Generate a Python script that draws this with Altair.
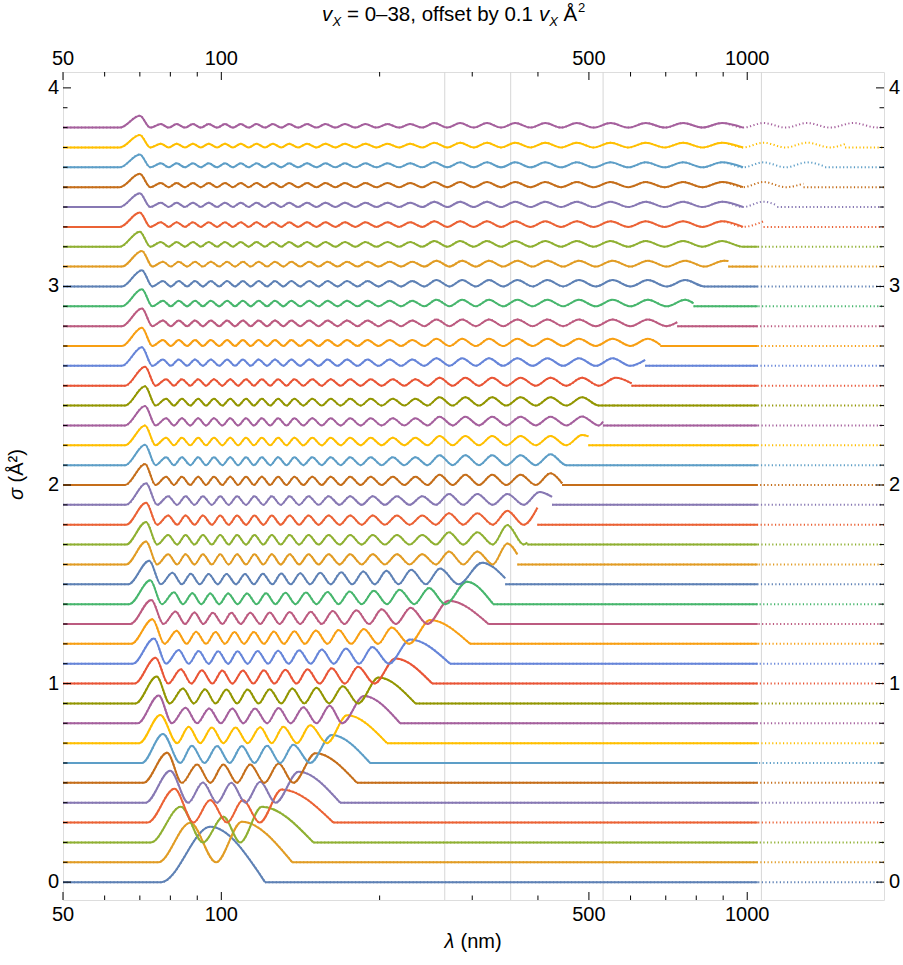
import altair as alt
import pandas as pd

# ---------------------------------------------------------------------------
# Values.  Wavelength positions are given as log10(nm)
# (read on the logarithmic axis); heights are sigma in A^2 above each curve's
# own baseline (curve v is offset by 0.1*v).
# ---------------------------------------------------------------------------
LOG_LEFT = 1.699    # 50 nm (left frame)
LOG_RIGHT = 3.260   # ~1820 nm (right frame)
LOG_DOTTED = 3.020  # beyond ~1050 nm the sampled curves look dotted

# ---- v = 0 .. 15 : every lobe visible --------------------------------------
peaks_v00 = [1.979]
nodes_v00 = []
heights_v00 = [0.279]
peaks_v01 = [1.941, 2.039]
nodes_v01 = [1.990]
heights_v01 = [0.199, 0.204]
peaks_v02 = [1.923, 2.004, 2.077]
nodes_v02 = [1.965, 2.036]
heights_v02 = [0.180, 0.129, 0.180]
peaks_v03 = [1.911, 1.979, 2.041, 2.115]
nodes_v03 = [1.947, 2.011, 2.073]
heights_v03 = [0.170, 0.113, 0.113, 0.167]
peaks_v04 = [1.903, 1.965, 2.019, 2.074, 2.147]
nodes_v04 = [1.937, 1.992, 2.046, 2.103]
heights_v04 = [0.161, 0.102, 0.100, 0.105, 0.156]
peaks_v05 = [1.897, 1.954, 2.004, 2.055, 2.109, 2.179]
nodes_v05 = [1.925, 1.979, 2.030, 2.082, 2.137]
heights_v05 = [0.152, 0.093, 0.092, 0.093, 0.097, 0.149]
peaks_v06 = [1.889, 1.944, 1.992, 2.039, 2.087, 2.137, 2.210]
nodes_v06 = [1.922, 1.968, 2.016, 2.063, 2.112, 2.169]
heights_v06 = [0.146, 0.087, 0.085, 0.085, 0.087, 0.092, 0.141]
peaks_v07 = [1.884, 1.938, 1.982, 2.027, 2.074, 2.118, 2.169, 2.239]
nodes_v07 = [1.916, 1.960, 2.004, 2.050, 2.096, 2.144, 2.201]
heights_v07 = [0.142, 0.082, 0.079, 0.079, 0.080, 0.083, 0.090, 0.140]
peaks_v08 = [1.881, 1.932, 1.977, 2.021, 2.064, 2.109, 2.156, 2.206, 2.271]
nodes_v08 = [1.906, 1.954, 1.999, 2.042, 2.087, 2.132, 2.181, 2.230]
heights_v08 = [0.140, 0.078, 0.075, 0.074, 0.075, 0.077, 0.081, 0.088, 0.137]
peaks_v09 = [1.877, 1.927, 1.969, 2.010, 2.050, 2.092, 2.135, 2.181, 2.231, 2.299]
nodes_v09 = [1.902, 1.948, 1.989, 2.030, 2.071, 2.114, 2.158, 2.205, 2.260]
heights_v09 = [0.135, 0.075, 0.071, 0.070, 0.070, 0.072, 0.075, 0.079, 0.087, 0.130]
peaks_v10 = [1.875, 1.923, 1.963, 2.002, 2.041, 2.081, 2.122, 2.164, 2.210, 2.260, 2.331]
nodes_v10 = [1.899, 1.943, 1.983, 2.021, 2.061, 2.101, 2.143, 2.187, 2.235, 2.291]
heights_v10 = [0.130, 0.072, 0.067, 0.066, 0.066, 0.067, 0.069, 0.072, 0.077, 0.085, 0.126]
peaks_v11 = [1.872, 1.919, 1.957, 1.994, 2.031, 2.069, 2.108, 2.148, 2.191, 2.237, 2.287, 2.359]
nodes_v11 = [1.895, 1.938, 1.976, 2.013, 2.050, 2.089, 2.128, 2.170, 2.214, 2.262, 2.319]
heights_v11 = [0.127, 0.069, 0.064, 0.063, 0.063, 0.064, 0.065, 0.068, 0.071, 0.076, 0.084, 0.122]
peaks_v12 = [1.869, 1.915, 1.952, 1.989, 2.025, 2.062, 2.100, 2.139, 2.180, 2.223, 2.271, 2.324, 2.397]
nodes_v12 = [1.892, 1.934, 1.971, 2.007, 2.043, 2.081, 2.119, 2.159, 2.202, 2.247, 2.298, 2.357]
heights_v12 = [0.124, 0.066, 0.061, 0.060, 0.060, 0.060, 0.062, 0.064, 0.067, 0.070, 0.075, 0.083, 0.120]
peaks_v13 = [1.867, 1.913, 1.949, 1.984, 2.019, 2.055, 2.092, 2.130, 2.170, 2.212, 2.257, 2.305, 2.360, 2.432]
nodes_v13 = [1.890, 1.931, 1.966, 2.002, 2.037, 2.074, 2.111, 2.150, 2.191, 2.234, 2.281, 2.332, 2.392]
heights_v13 = [0.121, 0.063, 0.058, 0.057, 0.057, 0.057, 0.058, 0.060, 0.062, 0.065, 0.069, 0.074, 0.082, 0.117]
peaks_v14 = [1.865, 1.910, 1.945, 1.979, 2.013, 2.049, 2.085, 2.122, 2.161, 2.202, 2.244, 2.290, 2.339, 2.395, 2.467]
nodes_v14 = [1.887, 1.927, 1.962, 1.996, 2.031, 2.067, 2.103, 2.141, 2.181, 2.223, 2.267, 2.315, 2.367, 2.426]
heights_v14 = [0.120, 0.060, 0.055, 0.054, 0.054, 0.054, 0.055, 0.057, 0.059, 0.061, 0.064, 0.068, 0.073, 0.081, 0.113]
peaks_v15 = [1.863, 1.907, 1.942, 1.976, 2.010, 2.045, 2.079, 2.114, 2.150, 2.188, 2.228, 2.270, 2.314, 2.361, 2.416, 2.496]
nodes_v15 = [1.885, 1.925, 1.959, 1.993, 2.028, 2.062, 2.097, 2.132, 2.169, 2.208, 2.249, 2.292, 2.337, 2.389, 2.451]
heights_v15 = [0.119, 0.058, 0.053, 0.052, 0.052, 0.052, 0.053, 0.054, 0.056, 0.058, 0.061, 0.064, 0.068, 0.073, 0.080, 0.109]

low_rise = [1.886, 1.880, 1.866, 1.860, 1.856, 1.852, 1.849, 1.844,
            1.841, 1.837, 1.835, 1.832, 1.829, 1.827, 1.825, 1.823]
low_end = [2.083, 2.135, 2.175, 2.213, 2.226, 2.258, 2.283, 2.315,
           2.340, 2.369, 2.401, 2.435, 2.473, 2.508, 2.517, 2.540]
low_end_value = [0.0, 0.0, 0.0, 0.0, 0.0, 0.0, 0.0, 0.0,
                 0.0, 0.0, 0.0, 0.0, 0.0, 0.0, 0.0, 0.030]

# ---- v = 16 .. 38 : lobe positions (nearly aligned within each band) -------
peaks_b = [1.857, 1.899, 1.932, 1.965, 1.998, 2.030, 2.063, 2.096, 2.130, 2.166, 2.204,
           2.245, 2.288, 2.334, 2.382, 2.433, 2.487, 2.544, 2.605, 2.669, 2.737]
nodes_b = [1.878, 1.916, 1.949, 1.982, 2.014, 2.047, 2.080, 2.113, 2.148, 2.185, 2.225,
           2.267, 2.311, 2.358, 2.408, 2.460, 2.516, 2.575, 2.637, 2.703]
peaks_c = [1.855, 1.895, 1.925, 1.956, 1.986, 2.017, 2.047, 2.077, 2.108, 2.139, 2.173,
           2.208, 2.245, 2.284, 2.326, 2.369, 2.415, 2.464, 2.515, 2.569, 2.626, 2.686,
           2.750, 2.817, 2.888]
nodes_c = [1.875, 1.910, 1.941, 1.971, 2.002, 2.032, 2.062, 2.093, 2.124, 2.156, 2.191,
           2.227, 2.265, 2.305, 2.348, 2.392, 2.440, 2.490, 2.542, 2.598, 2.656, 2.718,
           2.784, 2.853]
peaks_d = [1.849, 1.889, 1.919, 1.950, 1.980, 2.011, 2.041, 2.071, 2.102, 2.133, 2.167,
           2.202, 2.239, 2.278, 2.320, 2.363, 2.409, 2.458, 2.509, 2.563, 2.620, 2.680,
           2.744, 2.811, 2.882, 2.956, 3.035]
nodes_d = [1.869, 1.904, 1.935, 1.965, 1.996, 2.026, 2.056, 2.087, 2.118, 2.150, 2.185,
           2.221, 2.259, 2.299, 2.342, 2.386, 2.434, 2.484, 2.536, 2.592, 2.650, 2.712,
           2.778, 2.847, 2.919, 2.996]
peaks_e = [1.845, 1.885, 1.915, 1.946, 1.976, 2.007, 2.037, 2.067, 2.098, 2.129, 2.163,
           2.198, 2.235, 2.274, 2.316, 2.359, 2.405, 2.454, 2.505, 2.559, 2.616, 2.676,
           2.740, 2.807, 2.878, 2.952, 3.031, 3.114, 3.202, 3.294]
nodes_e = [1.865, 1.900, 1.931, 1.961, 1.992, 2.022, 2.052, 2.083, 2.114, 2.146, 2.181,
           2.217, 2.255, 2.295, 2.338, 2.382, 2.430, 2.480, 2.532, 2.588, 2.646, 2.708,
           2.774, 2.843, 2.915, 2.992, 3.073, 3.158, 3.248]

# per curve v = 16 .. 38
rise_hi = [1.819, 1.819, 1.819, 1.819,
           1.817, 1.817, 1.817, 1.817, 1.817, 1.817,
           1.811, 1.811, 1.811, 1.811, 1.811, 1.811,
           1.807, 1.807, 1.807, 1.807, 1.807, 1.807, 1.807]
first_height_hi = [0.115, 0.114, 0.111, 0.109, 0.106, 0.103, 0.100, 0.098, 0.097, 0.095,
                   0.094, 0.092, 0.089, 0.086, 0.082, 0.079, 0.076, 0.072, 0.069, 0.067,
                   0.065, 0.063, 0.060]
early_height_hi = [0.051, 0.048, 0.046, 0.044, 0.042, 0.040, 0.038, 0.036, 0.035, 0.033,
                   0.032, 0.030, 0.029, 0.028, 0.027, 0.025, 0.024, 0.023, 0.022, 0.021,
                   0.020, 0.019, 0.018]
late_height_hi = [0.065, 0.062, 0.058, 0.055, 0.052, 0.050, 0.047, 0.044, 0.042, 0.040,
                  0.038, 0.036, 0.034, 0.033, 0.032, 0.030, 0.029, 0.028, 0.027, 0.026,
                  0.025, 0.024, 0.023]
last_peak_height_hi = [0.106, 0.098, 0.070, 0.065, 0.059, 0.055, 0.052, 0.045, 0.042, 0.040,
                       0.038, 0.036, 0.034, 0.033, 0.032, 0.030, 0.029, 0.028, 0.027, 0.026,
                       0.025, 0.024, 0.023]
trunc_log_hi = [2.563, 2.582, 2.601, 2.629, 2.648, 2.677, 2.698, 2.726, 2.746, 2.780,
                2.806, 2.835, 2.867, 2.898, 2.930, 2.964, 2.993, 3.031, 3.057, 3.107,
                3.148, 3.186, 3.260]
trunc_val_hi = [0.050, 0.010, 0.085, 0.040, 0.008, 0.000, 0.045, 0.020, 0.000, 0.012,
                0.030, 0.005, 0.020, 0.015, 0.000, 0.028, 0.000, 0.028, 0.008, 0.018,
                0.004, 0.017, 0.003]
LATE_FROM = 2.40

# axes / decorations
x_major = [50, 100, 500, 1000]
x_minor = [60, 70, 80, 90, 200, 300, 400, 600, 700, 800, 900]
y_major = [0, 1, 2, 3, 4]
y_minor = [round(0.1 * i, 1) for i in range(1, 40) if i % 10 != 0]
grid_nm = [266, 355, 532, 1064]

palette = ["#5e81b5", "#e19c24", "#8fb032", "#eb6235", "#8778b3", "#c56e1a", "#5d9ec7",
           "#ffbf00", "#a5609d", "#929600", "#e95536", "#6685d9", "#f89f13", "#bc5b80",
           "#47b66d"]

# ---------------------------------------------------------------------------
rows = []


def add_curve(v, rise, ext, end_log, end_val):
    base = 0.1 * v
    pts = [(LOG_LEFT, 0.0), (rise, 0.0)] + ext + [(end_log, end_val)]
    for lg, h in pts:
        rows.append({"v": v, "seg": f"{v:02d}a", "lam": 10 ** lg, "sigma": base + h})
    if end_log < LOG_RIGHT:
        flat = [end_log] + ([LOG_DOTTED] if end_log < LOG_DOTTED else []) + [LOG_RIGHT]
        for lg in flat:
            rows.append({"v": v, "seg": f"{v:02d}b", "lam": 10 ** lg, "sigma": base})


low_curves = [
    (peaks_v00, nodes_v00, heights_v00), (peaks_v01, nodes_v01, heights_v01),
    (peaks_v02, nodes_v02, heights_v02), (peaks_v03, nodes_v03, heights_v03),
    (peaks_v04, nodes_v04, heights_v04), (peaks_v05, nodes_v05, heights_v05),
    (peaks_v06, nodes_v06, heights_v06), (peaks_v07, nodes_v07, heights_v07),
    (peaks_v08, nodes_v08, heights_v08), (peaks_v09, nodes_v09, heights_v09),
    (peaks_v10, nodes_v10, heights_v10), (peaks_v11, nodes_v11, heights_v11),
    (peaks_v12, nodes_v12, heights_v12), (peaks_v13, nodes_v13, heights_v13),
    (peaks_v14, nodes_v14, heights_v14), (peaks_v15, nodes_v15, heights_v15),
]
for v, (pk, nd, ht) in enumerate(low_curves):
    ext = []
    for i, p in enumerate(pk):
        ext.append((p, ht[i]))
        if i < len(nd):
            ext.append((nd[i], 0.0))
    add_curve(v, low_rise[v], ext, low_end[v], low_end_value[v])

bands = ([(peaks_b, nodes_b)] * 4 + [(peaks_c, nodes_c)] * 6 +
         [(peaks_d, nodes_d)] * 6 + [(peaks_e, nodes_e)] * 7)
for k in range(23):
    v = 16 + k
    pk, nd = bands[k]
    t = trunc_log_hi[k]
    pk_in = [p for p in pk if p < t]
    ext = []
    for i, p in enumerate(pk_in):
        if i == 0:
            h = first_height_hi[k]
        elif i == len(pk_in) - 1:
            h = last_peak_height_hi[k]
        elif p < LATE_FROM:
            h = early_height_hi[k]
        else:
            h = late_height_hi[k]
        ext.append((p, h))
    ext += [(n, 0.0) for n in nd if n < t]
    ext.sort()
    add_curve(v, rise_hi[k], ext, t, trunc_val_hi[k])

curves = pd.DataFrame(rows)

# ---------------------------------------------------------------------------
W, H = 821, 828
FONT = "Liberation Sans"
FS = 20
xs = alt.Scale(type="log", domain=[50, 1820])
ys = alt.Scale(domain=[-0.09, 4.08])
vs = list(range(39))
cols = [palette[v % 15] for v in vs]

enc = dict(
    x=alt.X("lam:Q", scale=xs, axis=None),
    y=alt.Y("sigma:Q", scale=ys, axis=None),
    color=alt.Color("v:N", scale=alt.Scale(domain=vs, range=cols), legend=None),
    detail="seg:N",
)

grid = alt.Chart(pd.DataFrame({"lam": grid_nm})).mark_rule(
    color="#d6d6d6", strokeWidth=1).encode(x=alt.X("lam:Q", scale=xs, axis=None))

dotted = alt.Chart(curves).mark_line(
    interpolate="monotone", strokeWidth=2, strokeDash=[1.2, 2.4], clip=True
).encode(**enc)

solid = alt.Chart(curves).transform_filter(
    alt.datum.lam <= 10 ** LOG_DOTTED
).mark_line(interpolate="monotone", strokeWidth=2, clip=True).encode(**enc)

xmaj = pd.DataFrame({"lam": x_major, "label": [str(t) for t in x_major]})
xmin = pd.DataFrame({"lam": x_minor})
ymaj = pd.DataFrame({"s": y_major, "label": [str(t) for t in y_major]})
ymin = pd.DataFrame({"s": y_minor})
xe = alt.X("lam:Q", scale=xs, axis=None)
ye = alt.Y("s:Q", scale=ys, axis=None)


def xticks(df, ln):
    return [
        alt.Chart(df).mark_rule(color="black", strokeWidth=1).encode(
            x=xe, y=alt.value(H), y2=alt.value(H - ln)),
        alt.Chart(df).mark_rule(color="black", strokeWidth=1).encode(
            x=xe, y=alt.value(0), y2=alt.value(ln)),
    ]


def yticks(df, ln):
    return [
        alt.Chart(df).mark_rule(color="black", strokeWidth=1).encode(
            y=ye, x=alt.value(0), x2=alt.value(ln)),
        alt.Chart(df).mark_rule(color="black", strokeWidth=1).encode(
            y=ye, x=alt.value(W), x2=alt.value(W - ln)),
    ]


ticks = xticks(xmaj, 8) + xticks(xmin, 4.5) + yticks(ymaj, 8) + yticks(ymin, 4.5)

labels = [
    alt.Chart(xmaj).mark_text(font=FONT, fontSize=FS, baseline="alphabetic").encode(
        x=xe, y=alt.value(H + 21), text="label:N"),
    alt.Chart(xmaj).mark_text(font=FONT, fontSize=FS, baseline="alphabetic").encode(
        x=xe, y=alt.value(-7), text="label:N"),
    alt.Chart(ymaj).mark_text(font=FONT, fontSize=FS, baseline="middle", align="right").encode(
        y=ye, x=alt.value(-4), text="label:N"),
    alt.Chart(ymaj).mark_text(font=FONT, fontSize=FS, baseline="middle", align="left").encode(
        y=ye, x=alt.value(W + 5), text="label:N"),
]


def piece(txt, x, y, size=FS, style="normal", angle=0):
    return alt.Chart(pd.DataFrame({"t": [txt]})).mark_text(
        font=FONT, fontSize=size, fontStyle=style, align="left",
        baseline="alphabetic", angle=angle, color="black"
    ).encode(x=alt.value(x), y=alt.value(y), text="t:N")


texts = [
    # title: v_X = 0-38, offset by 0.1 v_X A^2
    piece("v", 259, -51, 20.5, "italic"),
    piece("X", 269.5, -46, 13, "italic"),
    piece("= 0\u201338, offset by 0.1", 284, -51, 20.5),
    piece("v", 476, -51, 20.5, "italic"),
    piece("X", 486.3, -46, 13, "italic"),
    piece("\u00c5", 500.6, -51, 20.5),
    piece("2", 515, -60, 13),
    # x-axis title
    piece("\u03bb", 381.5, 876, FS, "italic"),
    piece("(nm)", 397.5, 876, FS),
    # y-axis title (rotated)
    piece("\u03c3", -40, 428, FS, "italic", 270),
    piece("(\u00c5\u00b2)", -40, 410.5, FS, "normal", 270),
]

chart = alt.layer(grid, dotted, solid, *ticks, *labels, *texts).properties(
    width=W, height=H,
    padding={"left": 63, "top": 72, "right": 19, "bottom": 65},
    autosize=alt.AutoSizeParams(type="none"),
).configure_view(stroke="black", strokeWidth=1.6).configure(background="white")

chart.save("out.html", embed_options={"renderer": "svg", "actions": False})
